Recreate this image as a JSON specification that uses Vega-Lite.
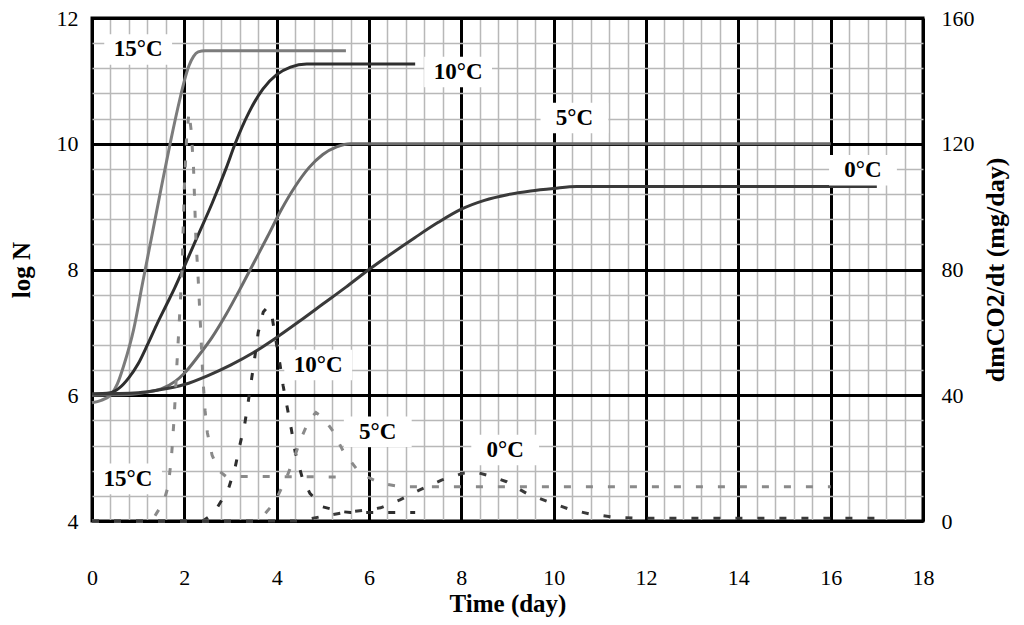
{
  "$schema": "https://vega.github.io/schema/vega-lite/v6.json",
  "width": 831,
  "height": 503,
  "autosize": "none",
  "padding": {"left": 92, "top": 18, "right": 101, "bottom": 104},
  "background": "white",
  "config": {
    "view": {"stroke": "black", "strokeWidth": 3},
    "axis": {
      "labelFont": "Liberation Serif",
      "titleFont": "Liberation Serif",
      "labelFontSize": 22,
      "titleFontSize": 25,
      "labelColor": "black",
      "titleColor": "black",
      "titleFontWeight": "bold",
      "ticks": false,
      "domain": false
    }
  },
  "datasets": {
    "growth": [
      {"t": 0, "logN": 5.88, "temp": "15"}, {"t": 0.2, "logN": 5.92, "temp": "15"}, {"t": 0.4, "logN": 6.0, "temp": "15"}, {"t": 0.55, "logN": 6.18, "temp": "15"}, {"t": 0.7, "logN": 6.5, "temp": "15"}, {"t": 0.9, "logN": 7.04, "temp": "15"}, {"t": 1.1, "logN": 7.8, "temp": "15"}, {"t": 1.3, "logN": 8.55, "temp": "15"}, {"t": 1.5, "logN": 9.3, "temp": "15"}, {"t": 1.7, "logN": 10.03, "temp": "15"}, {"t": 1.9, "logN": 10.7, "temp": "15"}, {"t": 2.0, "logN": 11.0, "temp": "15"}, {"t": 2.1, "logN": 11.24, "temp": "15"}, {"t": 2.2, "logN": 11.39, "temp": "15"}, {"t": 2.3, "logN": 11.46, "temp": "15"}, {"t": 2.45, "logN": 11.48, "temp": "15"}, {"t": 5.5, "logN": 11.48, "temp": "15"},
      {"t": 0, "logN": 6.02, "temp": "10"}, {"t": 0.4, "logN": 6.04, "temp": "10"}, {"t": 0.6, "logN": 6.12, "temp": "10"}, {"t": 0.8, "logN": 6.28, "temp": "10"}, {"t": 1.0, "logN": 6.5, "temp": "10"}, {"t": 1.2, "logN": 6.8, "temp": "10"}, {"t": 1.4, "logN": 7.12, "temp": "10"}, {"t": 1.6, "logN": 7.42, "temp": "10"}, {"t": 1.8, "logN": 7.72, "temp": "10"}, {"t": 2.0, "logN": 8.05, "temp": "10"}, {"t": 2.3, "logN": 8.55, "temp": "10"}, {"t": 2.6, "logN": 9.05, "temp": "10"}, {"t": 2.9, "logN": 9.6, "temp": "10"}, {"t": 3.1, "logN": 10.0, "temp": "10"}, {"t": 3.4, "logN": 10.5, "temp": "10"}, {"t": 3.7, "logN": 10.87, "temp": "10"}, {"t": 4.0, "logN": 11.1, "temp": "10"}, {"t": 4.3, "logN": 11.22, "temp": "10"}, {"t": 4.65, "logN": 11.27, "temp": "10"}, {"t": 7.0, "logN": 11.27, "temp": "10"},
      {"t": 0, "logN": 6.0, "temp": "5"}, {"t": 0.8, "logN": 6.01, "temp": "5"}, {"t": 1.2, "logN": 6.05, "temp": "5"}, {"t": 1.5, "logN": 6.1, "temp": "5"}, {"t": 1.8, "logN": 6.22, "temp": "5"}, {"t": 2.0, "logN": 6.35, "temp": "5"}, {"t": 2.3, "logN": 6.62, "temp": "5"}, {"t": 2.6, "logN": 6.92, "temp": "5"}, {"t": 2.9, "logN": 7.28, "temp": "5"}, {"t": 3.2, "logN": 7.68, "temp": "5"}, {"t": 3.5, "logN": 8.1, "temp": "5"}, {"t": 3.8, "logN": 8.52, "temp": "5"}, {"t": 4.1, "logN": 8.95, "temp": "5"}, {"t": 4.4, "logN": 9.32, "temp": "5"}, {"t": 4.7, "logN": 9.62, "temp": "5"}, {"t": 5.0, "logN": 9.83, "temp": "5"}, {"t": 5.3, "logN": 9.95, "temp": "5"}, {"t": 5.6, "logN": 10.0, "temp": "5"}, {"t": 16, "logN": 10.0, "temp": "5"},
      {"t": 0, "logN": 6.02, "temp": "0"}, {"t": 1.0, "logN": 6.04, "temp": "0"}, {"t": 1.5, "logN": 6.09, "temp": "0"}, {"t": 2.0, "logN": 6.17, "temp": "0"}, {"t": 2.5, "logN": 6.31, "temp": "0"}, {"t": 3.0, "logN": 6.48, "temp": "0"}, {"t": 3.5, "logN": 6.68, "temp": "0"}, {"t": 4.0, "logN": 6.92, "temp": "0"}, {"t": 4.5, "logN": 7.18, "temp": "0"}, {"t": 5.0, "logN": 7.45, "temp": "0"}, {"t": 5.5, "logN": 7.72, "temp": "0"}, {"t": 6.0, "logN": 8.0, "temp": "0"}, {"t": 6.5, "logN": 8.26, "temp": "0"}, {"t": 7.0, "logN": 8.51, "temp": "0"}, {"t": 7.5, "logN": 8.75, "temp": "0"}, {"t": 8.0, "logN": 8.96, "temp": "0"}, {"t": 8.5, "logN": 9.1, "temp": "0"}, {"t": 9.0, "logN": 9.19, "temp": "0"}, {"t": 9.5, "logN": 9.25, "temp": "0"}, {"t": 10.0, "logN": 9.29, "temp": "0"}, {"t": 10.5, "logN": 9.32, "temp": "0"}, {"t": 17, "logN": 9.32, "temp": "0"}
    ],
    "rate": [
      {"t": 0, "r": 0, "temp": "15"}, {"t": 1.3, "r": 0, "temp": "15"}, {"t": 1.4, "r": 2.5, "temp": "15"}, {"t": 1.55, "r": 6, "temp": "15"}, {"t": 1.65, "r": 11, "temp": "15"}, {"t": 1.72, "r": 20, "temp": "15"}, {"t": 1.78, "r": 33, "temp": "15"}, {"t": 1.84, "r": 50, "temp": "15"}, {"t": 1.9, "r": 66, "temp": "15"}, {"t": 1.95, "r": 80, "temp": "15"}, {"t": 2.0, "r": 106, "temp": "15"}, {"t": 2.05, "r": 122, "temp": "15"}, {"t": 2.1, "r": 130, "temp": "15"}, {"t": 2.15, "r": 124, "temp": "15"}, {"t": 2.2, "r": 112, "temp": "15"}, {"t": 2.25, "r": 90, "temp": "15"}, {"t": 2.3, "r": 77, "temp": "15"}, {"t": 2.35, "r": 62, "temp": "15"}, {"t": 2.4, "r": 46, "temp": "15"}, {"t": 2.45, "r": 35, "temp": "15"}, {"t": 2.5, "r": 28, "temp": "15"}, {"t": 2.6, "r": 21, "temp": "15"}, {"t": 2.75, "r": 16, "temp": "15"}, {"t": 2.9, "r": 14.2, "temp": "15"}, {"t": 5.5, "r": 14, "temp": "15"},
      {"t": 0, "r": 0, "temp": "10"}, {"t": 2.4, "r": 0, "temp": "10"}, {"t": 2.55, "r": 1.5, "temp": "10"}, {"t": 2.7, "r": 4, "temp": "10"}, {"t": 2.95, "r": 10, "temp": "10"}, {"t": 3.1, "r": 17, "temp": "10"}, {"t": 3.2, "r": 24, "temp": "10"}, {"t": 3.31, "r": 31, "temp": "10"}, {"t": 3.39, "r": 38.5, "temp": "10"}, {"t": 3.46, "r": 45.5, "temp": "10"}, {"t": 3.53, "r": 52.5, "temp": "10"}, {"t": 3.6, "r": 60, "temp": "10"}, {"t": 3.71, "r": 66.5, "temp": "10"}, {"t": 3.8, "r": 68, "temp": "10"}, {"t": 3.9, "r": 65, "temp": "10"}, {"t": 4.0, "r": 56, "temp": "10"}, {"t": 4.07, "r": 50, "temp": "10"}, {"t": 4.14, "r": 43, "temp": "10"}, {"t": 4.23, "r": 36, "temp": "10"}, {"t": 4.32, "r": 29, "temp": "10"}, {"t": 4.4, "r": 22, "temp": "10"}, {"t": 4.55, "r": 14, "temp": "10"}, {"t": 4.72, "r": 8.8, "temp": "10"}, {"t": 5.0, "r": 4.5, "temp": "10"}, {"t": 5.4, "r": 3, "temp": "10"}, {"t": 5.6, "r": 2.7, "temp": "10"}, {"t": 7.0, "r": 2.7, "temp": "10"},
      {"t": 0, "r": 0, "temp": "5"}, {"t": 3.5, "r": 0, "temp": "5"}, {"t": 3.7, "r": 1.5, "temp": "5"}, {"t": 3.96, "r": 6, "temp": "5"}, {"t": 4.22, "r": 14, "temp": "5"}, {"t": 4.4, "r": 21, "temp": "5"}, {"t": 4.55, "r": 27, "temp": "5"}, {"t": 4.7, "r": 32, "temp": "5"}, {"t": 4.85, "r": 34.5, "temp": "5"}, {"t": 5.0, "r": 33, "temp": "5"}, {"t": 5.2, "r": 29, "temp": "5"}, {"t": 5.45, "r": 22, "temp": "5"}, {"t": 5.8, "r": 15.2, "temp": "5"}, {"t": 6.25, "r": 12, "temp": "5"}, {"t": 6.7, "r": 10.9, "temp": "5"}, {"t": 16, "r": 10.9, "temp": "5"},
      {"t": 0, "r": 0, "temp": "0"}, {"t": 4.5, "r": 0, "temp": "0"}, {"t": 5.0, "r": 1.5, "temp": "0"}, {"t": 5.5, "r": 2.8, "temp": "0"}, {"t": 6.0, "r": 3.6, "temp": "0"}, {"t": 6.25, "r": 4.2, "temp": "0"}, {"t": 6.67, "r": 6.7, "temp": "0"}, {"t": 7.1, "r": 9.9, "temp": "0"}, {"t": 7.57, "r": 13, "temp": "0"}, {"t": 8.04, "r": 15.2, "temp": "0"}, {"t": 8.3, "r": 15.6, "temp": "0"}, {"t": 8.55, "r": 14.6, "temp": "0"}, {"t": 8.98, "r": 12.5, "temp": "0"}, {"t": 9.41, "r": 8.8, "temp": "0"}, {"t": 9.88, "r": 6.1, "temp": "0"}, {"t": 10.35, "r": 3.7, "temp": "0"}, {"t": 10.82, "r": 2.1, "temp": "0"}, {"t": 11.33, "r": 1.2, "temp": "0"}, {"t": 11.8, "r": 0.9, "temp": "0"}, {"t": 17, "r": 0.85, "temp": "0"}
    ],
    "labels": [
      {"t": 1.0, "logN": 11.5, "label": "15°C"},
      {"t": 7.93, "logN": 11.14, "label": "10°C"},
      {"t": 10.45, "logN": 10.41, "label": "5°C"},
      {"t": 16.7, "logN": 9.58, "label": "0°C"},
      {"t": 4.9, "logN": 6.48, "label": "10°C"},
      {"t": 6.19, "logN": 5.42, "label": "5°C"},
      {"t": 8.95, "logN": 5.13, "label": "0°C"},
      {"t": 0.78, "logN": 4.67, "label": "15°C"}
    ]
  },
  "encoding": {
    "x": {
      "field": "t", "type": "quantitative",
      "scale": {"domain": [0, 18], "nice": false},
      "axis": {
        "title": "Time (day)",
        "values": [0,0.4,0.8,1.2,1.6,2,2.4,2.8,3.2,3.6,4,4.4,4.8,5.2,5.6,6,6.4,6.8,7.2,7.6,8,8.4,8.8,9.2,9.6,10,10.4,10.8,11.2,11.6,12,12.4,12.8,13.2,13.6,14,14.4,14.8,15.2,15.6,16,16.4,16.8,17.2,17.6,18],
        "labelExpr": "abs(datum.value/2 - round(datum.value/2)) < 0.01 ? format(datum.value, 'd') : ''",
        "labelPadding": 46,
        "titlePadding": 3,
        "grid": true,
        "gridColor": {"condition": {"test": "abs(datum.value/2 - round(datum.value/2)) < 0.01", "value": "black"}, "value": "#b8b8b8"},
        "gridWidth": {"condition": {"test": "abs(datum.value/2 - round(datum.value/2)) < 0.01", "value": 3}, "value": 1.5},
        "gridOpacity": 1,
        "labelFlush": false,
        "labelOverlap": false
      }
    }
  },
  "layer": [
    {
      "encoding": {
        "y": {
          "field": "logN", "type": "quantitative",
          "scale": {"domain": [4, 12], "nice": false},
          "axis": {
            "title": "log N",
            "values": [4,4.4,4.8,5.2,5.6,6,6.4,6.8,7.2,7.6,8,8.4,8.8,9.2,9.6,10,10.4,10.8,11.2,11.6,12],
            "labelExpr": "abs(datum.value/2 - round(datum.value/2)) < 0.01 ? format(datum.value, 'd') : ''",
            "labelPadding": 14,
            "titlePadding": 22,
            "grid": true,
            "gridColor": {"condition": {"test": "abs(datum.value/2 - round(datum.value/2)) < 0.01", "value": "black"}, "value": "#b8b8b8"},
            "gridWidth": {"condition": {"test": "abs(datum.value/2 - round(datum.value/2)) < 0.01", "value": 3}, "value": 1.5},
            "gridOpacity": 1,
            "labelFlush": false,
            "labelOverlap": false
          }
        }
      },
      "layer": [
        {
          "data": {"name": "growth"},
          "mark": {"type": "line", "strokeWidth": 3, "interpolate": "monotone"},
          "encoding": {
            "color": {
              "field": "temp", "type": "nominal",
              "scale": {"domain": ["15", "10", "5", "0"], "range": ["#7c7c7c", "#2e2e2e", "#6c6c6c", "#3a3a3a"]},
              "legend": null
            }
          }
        },
        {
          "data": {"name": "labels"},
          "mark": {"type": "point", "shape": "M-1,-0.45H1V0.45H-1Z", "filled": true, "color": "white", "opacity": 1, "size": 4600, "strokeWidth": 0}
        },
        {
          "data": {"name": "labels"},
          "mark": {"type": "text", "font": "Liberation Serif", "fontSize": 23, "fontWeight": "bold", "color": "black", "baseline": "middle", "align": "center"},
          "encoding": {"text": {"field": "label"}}
        }
      ]
    },
    {
      "data": {"name": "rate"},
      "mark": {"type": "line", "strokeWidth": 3, "strokeDash": [7, 15]},
      "encoding": {
        "y": {
          "field": "r", "type": "quantitative",
          "scale": {"domain": [0, 160], "nice": false},
          "axis": {
            "title": "dmCO2/dt (mg/day)",
            "titleFontSize": 26,
            "orient": "right",
            "values": [0, 40, 80, 120, 160],
            "grid": false,
            "labelPadding": 18,
            "titlePadding": 34,
            "titleAngle": 270,
            "labelFlush": false,
            "labelOverlap": false
          }
        },
        "color": {
          "field": "temp", "type": "nominal",
          "scale": {"domain": ["15", "10", "5", "0"], "range": ["#8a8a8a", "#2e2e2e", "#8a8a8a", "#3a3a3a"]},
          "legend": null
        }
      }
    }
  ],
  "resolve": {"scale": {"y": "independent", "color": "independent"}}
}
